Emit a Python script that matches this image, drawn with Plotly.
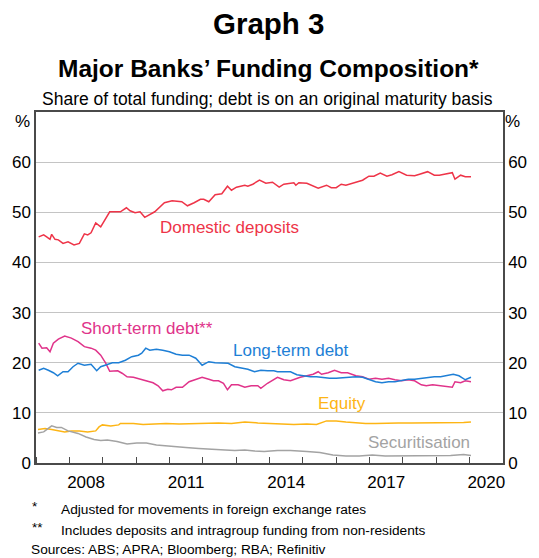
import plotly.graph_objects as go

# ---------------- data (decimal years, per cent of total funding) ----------------
dd_x = [2007.08, 2007.23, 2007.32, 2007.42, 2007.47, 2007.57, 2007.67, 2007.81, 2007.96, 2008.14,
        2008.30, 2008.45, 2008.55, 2008.65, 2008.79, 2008.94, 2009.21, 2009.53, 2009.71, 2009.82,
        2009.97, 2010.12, 2010.26, 2010.56, 2010.85, 2011.08, 2011.37, 2011.54, 2011.74, 2011.93,
        2012.03, 2012.18, 2012.37, 2012.57, 2012.74, 2012.86, 2013.01, 2013.26, 2013.35, 2013.50,
        2013.70, 2013.89, 2014.09, 2014.29, 2014.43, 2014.58, 2014.73, 2014.79, 2014.88, 2015.12,
        2015.31, 2015.46, 2015.71, 2015.85, 2016.00, 2016.15, 2016.29, 2016.49, 2016.69, 2016.79,
        2016.98, 2017.13, 2017.32, 2017.52, 2017.67, 2017.88, 2018.11, 2018.35, 2018.50, 2018.74,
        2018.94, 2019.09, 2019.24, 2019.48, 2019.56, 2019.73, 2019.87, 2020.04]
dd_y = [45.1, 45.5, 45.1, 44.6, 45.6, 44.6, 44.5, 43.8, 44.1, 43.5,
        43.8, 45.7, 45.5, 45.9, 47.9, 47.1, 50.1, 50.1, 50.9, 50.3,
        49.9, 50.1, 49.0, 50.1, 51.9, 52.3, 52.1, 51.3, 51.9, 52.6,
        52.6, 52.1, 53.5, 53.7, 55.2, 54.4, 55.0, 55.4, 55.2, 55.6,
        56.4, 55.8, 56.0, 55.0, 55.6, 55.8, 55.9, 55.4, 55.9, 55.8,
        55.2, 54.8, 55.4, 54.9, 54.9, 55.6, 55.4, 55.8, 56.1, 56.4,
        57.2, 57.2, 57.8, 57.2, 57.5, 58.1, 57.4, 57.3, 57.6, 58.1,
        57.4, 57.4, 57.6, 57.9, 56.6, 57.4, 57.1, 57.1]

st_x = [2007.08, 2007.18, 2007.32, 2007.42, 2007.52, 2007.67, 2007.86, 2008.06, 2008.26, 2008.45,
        2008.65, 2008.79, 2008.94, 2009.09, 2009.21, 2009.32, 2009.45, 2009.58, 2009.73, 2009.92,
        2010.12, 2010.31, 2010.51, 2010.66, 2010.80, 2010.95, 2011.06, 2011.20, 2011.39, 2011.59,
        2011.79, 2011.98, 2012.18, 2012.32, 2012.47, 2012.62, 2012.74, 2012.86, 2013.06, 2013.26,
        2013.45, 2013.65, 2013.74, 2013.94, 2014.24, 2014.43, 2014.63, 2014.92, 2015.12, 2015.31,
        2015.46, 2015.56, 2015.76, 2015.95, 2016.15, 2016.34, 2016.59, 2016.79, 2016.98, 2017.18,
        2017.37, 2017.57, 2017.76, 2017.96, 2018.16, 2018.35, 2018.55, 2018.70, 2018.89, 2019.09,
        2019.33, 2019.48, 2019.56, 2019.73, 2019.87, 2020.04]
st_y = [23.9, 22.9, 23.0, 22.2, 23.9, 24.7, 25.3, 24.9, 24.2, 23.2,
        22.9, 22.5, 21.5, 19.9, 18.3, 18.4, 18.4, 17.9, 17.2, 17.1,
        16.7, 16.4, 16.0, 15.4, 14.4, 14.7, 14.6, 15.1, 15.1, 16.2,
        16.6, 17.1, 16.7, 16.4, 16.4, 15.9, 14.6, 15.6, 15.6, 15.1,
        15.4, 15.4, 14.9, 15.9, 17.1, 16.6, 16.4, 17.1, 17.4, 17.7,
        18.2, 17.7, 18.0, 18.5, 18.0, 18.0, 17.4, 17.2, 16.7, 16.9,
        16.7, 16.9, 16.6, 16.4, 16.6, 16.4, 15.6, 15.4, 15.6, 15.4,
        15.1, 15.1, 16.2, 16.0, 16.4, 16.2]

lt_x = [2007.08, 2007.23, 2007.37, 2007.52, 2007.65, 2007.81, 2007.96, 2008.11, 2008.26, 2008.45,
        2008.65, 2008.82, 2008.94, 2009.09, 2009.29, 2009.48, 2009.68, 2009.87, 2010.07, 2010.17,
        2010.29, 2010.41, 2010.61, 2010.80, 2011.00, 2011.20, 2011.39, 2011.59, 2011.79, 2011.98,
        2012.18, 2012.37, 2012.57, 2012.76, 2012.96, 2013.16, 2013.35, 2013.55, 2013.74, 2013.94,
        2014.13, 2014.24, 2014.43, 2014.63, 2014.82, 2015.02, 2015.22, 2015.41, 2015.61, 2015.80,
        2016.00, 2016.20, 2016.39, 2016.59, 2016.79, 2016.98, 2017.18, 2017.37, 2017.57, 2017.76,
        2017.96, 2018.16, 2018.35, 2018.55, 2018.74, 2018.94, 2019.13, 2019.33, 2019.51, 2019.68,
        2019.87, 2020.04]
lt_y = [18.5, 18.9, 18.5, 18.0, 17.4, 18.2, 18.2, 19.2, 19.9, 19.5,
        19.7, 18.4, 19.2, 19.5, 20.0, 20.0, 20.5, 21.2, 21.5, 21.9,
        22.9, 22.5, 22.7, 22.5, 22.2, 21.7, 21.5, 21.5, 20.9, 19.5,
        20.2, 20.0, 19.9, 19.9, 19.2, 18.9, 18.7, 18.2, 18.5, 18.4,
        18.4, 18.2, 18.2, 18.2, 17.6, 17.4, 17.2, 17.2, 17.0, 16.9,
        16.9, 17.0, 17.2, 17.2, 17.1, 16.7, 16.2, 16.0, 16.2, 16.2,
        16.4, 16.7, 16.7, 16.9, 17.0, 17.2, 17.2, 17.4, 17.7, 17.4,
        16.6, 17.1]

eq_x = [2007.06, 2007.27, 2007.47, 2007.67, 2007.86, 2008.06, 2008.30, 2008.55, 2008.79, 2008.89,
        2008.99, 2009.24, 2009.48, 2009.53, 2009.92, 2010.21, 2010.61, 2010.90, 2011.29, 2011.69,
        2012.08, 2012.47, 2012.86, 2013.26, 2013.65, 2013.94, 2014.33, 2014.73, 2015.12, 2015.41,
        2015.71, 2016.00, 2016.29, 2016.59, 2016.88, 2017.18, 2017.47, 2017.86, 2018.26, 2018.65,
        2019.04, 2019.43, 2019.82, 2020.04]
eq_y = [6.7, 6.9, 6.7, 6.4, 6.2, 6.4, 6.4, 6.2, 6.4, 7.2,
        7.6, 7.4, 7.6, 7.9, 7.9, 7.7, 7.8, 7.9, 7.8, 7.9,
        7.9, 8.0, 7.9, 8.2, 8.0, 7.9, 7.9, 7.7, 7.8, 7.7,
        8.4, 8.4, 8.2, 8.0, 7.9, 7.9, 8.0, 8.0, 8.0, 8.0,
        8.0, 8.1, 8.1, 8.2]

se_x = [2007.06, 2007.23, 2007.37, 2007.47, 2007.62, 2007.76, 2007.96, 2008.26, 2008.50, 2008.74,
        2008.94, 2009.14, 2009.43, 2009.73, 2010.02, 2010.31, 2010.61, 2010.90, 2011.20, 2011.49,
        2011.88, 2012.27, 2012.67, 2012.96, 2013.26, 2013.55, 2013.84, 2014.24, 2014.63, 2015.12,
        2015.51, 2015.90, 2016.29, 2016.69, 2017.08, 2017.47, 2017.86, 2018.26, 2018.65, 2019.04,
        2019.43, 2019.82, 2020.04]
se_y = [6.0, 6.2, 6.9, 7.4, 7.1, 7.1, 6.4, 5.9, 5.2, 4.7,
        4.5, 4.6, 4.3, 3.8, 4.0, 4.0, 3.6, 3.4, 3.3, 3.1,
        2.9, 2.7, 2.6, 2.5, 2.6, 2.4, 2.3, 2.5, 2.5, 2.3,
        2.1, 1.6, 1.4, 1.4, 1.6, 1.4, 1.4, 1.5, 1.5, 1.4,
        1.5, 1.7, 1.5]

y_ticks = [0, 10, 20, 30, 40, 50, 60]
year_labels = ["2008", "2011", "2014", "2017", "2020"]

# ---------------- styling ----------------
FONT = "Arial, 'Liberation Sans', Helvetica, sans-serif"
C_DD = "#EE3448"
C_ST = "#E0338A"
C_LT = "#1E7FD6"
C_EQ = "#FDB515"
C_SE = "#A3A3A3"
AXIS_C = "#4a4a4a"

W, H = 539, 558
L, R, T, B = 34, 29, 112, 95
PW, PH = W - L - R, H - T - B


def px_x(px):
    return (px - L) / PW


def px_y(py):
    return (H - B - py) / PH


fig = go.Figure()
series = [
    (dd_x, dd_y, C_DD, "Domestic deposits"),
    (st_x, st_y, C_ST, "Short-term debt"),
    (lt_x, lt_y, C_LT, "Long-term debt"),
    (eq_x, eq_y, C_EQ, "Equity"),
    (se_x, se_y, C_SE, "Securitisation"),
]
for xs, ys, col, name in series:
    fig.add_trace(go.Scatter(x=xs, y=ys, mode="lines", name=name,
                             line=dict(color=col, width=1.5), hoverinfo="skip"))
# invisible trace so the right-hand axis renders
fig.add_trace(go.Scatter(x=se_x, y=se_y, yaxis="y2", mode="lines",
                         line=dict(width=0), opacity=0, hoverinfo="skip", showlegend=False))

fig.update_layout(
    width=W, height=H,
    margin=dict(l=L, r=R, t=T, b=B),
    paper_bgcolor="white", plot_bgcolor="white",
    showlegend=False,
    font=dict(family=FONT, size=17, color="black"),
    xaxis=dict(
        range=[2007, 2021],
        tickmode="array",
        tickvals=[int(y) + 0.5 for y in year_labels],
        ticktext=year_labels,
        ticks="",
        ticklabelstandoff=3,
        showgrid=False,
        zeroline=False,
        showline=True, linecolor=AXIS_C, linewidth=1.5, mirror=True,
        tickfont=dict(size=17),
        minor=dict(ticks="inside", ticklen=6, tickwidth=1, tickcolor=AXIS_C,
                   tick0=2007, dtick=1, showgrid=False),
    ),
    yaxis=dict(
        range=[0, 70],
        tickmode="array", tickvals=y_ticks,
        showgrid=True, gridcolor="#c4c4c4", gridwidth=1,
        zeroline=False,
        showline=True, linecolor=AXIS_C, linewidth=1.5,
        ticks="", tickfont=dict(size=17),
    ),
    yaxis2=dict(
        range=[0, 70], overlaying="y", side="right",
        tickmode="array", tickvals=y_ticks,
        showgrid=False, zeroline=False,
        showline=True, linecolor=AXIS_C, linewidth=1.5,
        ticks="", tickfont=dict(size=17),
    ),
)

ann = []
# titles
ann.append(dict(text="<b>Graph 3</b>", x=px_x(271), y=px_y(24), xref="paper", yref="paper",
                showarrow=False, font=dict(size=29.5), xanchor="center", yanchor="middle"))
ann.append(dict(text="<b>Major Banks’ Funding Composition*</b>", x=px_x(271), y=px_y(68),
                xref="paper", yref="paper", showarrow=False, font=dict(size=24.5),
                xanchor="center", yanchor="middle"))
ann.append(dict(text="Share of total funding; debt is on an original maturity basis",
                x=px_x(270), y=px_y(99), xref="paper", yref="paper", showarrow=False,
                font=dict(size=17.5), xanchor="center", yanchor="middle"))
# % units
ann.append(dict(text="%", x=px_x(20), y=px_y(121), xref="paper", yref="paper", showarrow=False,
                font=dict(size=17), xanchor="center", yanchor="middle"))
ann.append(dict(text="%", x=px_x(520), y=px_y(121), xref="paper", yref="paper", showarrow=False,
                font=dict(size=17), xanchor="center", yanchor="middle"))
# series labels
labels = [
    ("Domestic deposits", 2012.81, 47.0, C_DD),
    ("Short-term debt**", 2010.34, 26.9, C_ST),
    ("Long-term debt", 2014.65, 22.5, C_LT),
    ("Equity", 2016.18, 11.9, C_EQ),
    ("Securitisation", 2018.47, 4.0, C_SE),
]
for t, x, y, c in labels:
    ann.append(dict(text=t, x=x, y=y, xref="x", yref="y", showarrow=False,
                    font=dict(size=17, color=c), xanchor="center", yanchor="middle"))
# footnotes
foot = [("*", "Adjusted for movements in foreign exchange rates", 509),
        ("**", "Includes deposits and intragroup funding from non-residents", 530)]
for mark, txt, py in foot:
    ann.append(dict(text=mark, x=px_x(28), y=px_y(py - 3), xref="paper", yref="paper",
                    showarrow=False, font=dict(size=13.5), xanchor="left", yanchor="middle"))
    ann.append(dict(text=txt, x=px_x(57), y=px_y(py), xref="paper", yref="paper",
                    showarrow=False, font=dict(size=13.7), xanchor="left", yanchor="middle"))
ann.append(dict(text="Sources: ABS; APRA; Bloomberg; RBA; Refinitiv", x=px_x(27), y=px_y(549),
                xref="paper", yref="paper", showarrow=False, font=dict(size=13.7),
                xanchor="left", yanchor="middle"))
fig.update_layout(annotations=ann)

fig.write_html("out.html", config={"displayModeBar": False},
               post_script="document.body.style.margin='0';document.body.style.overflow='hidden';")
